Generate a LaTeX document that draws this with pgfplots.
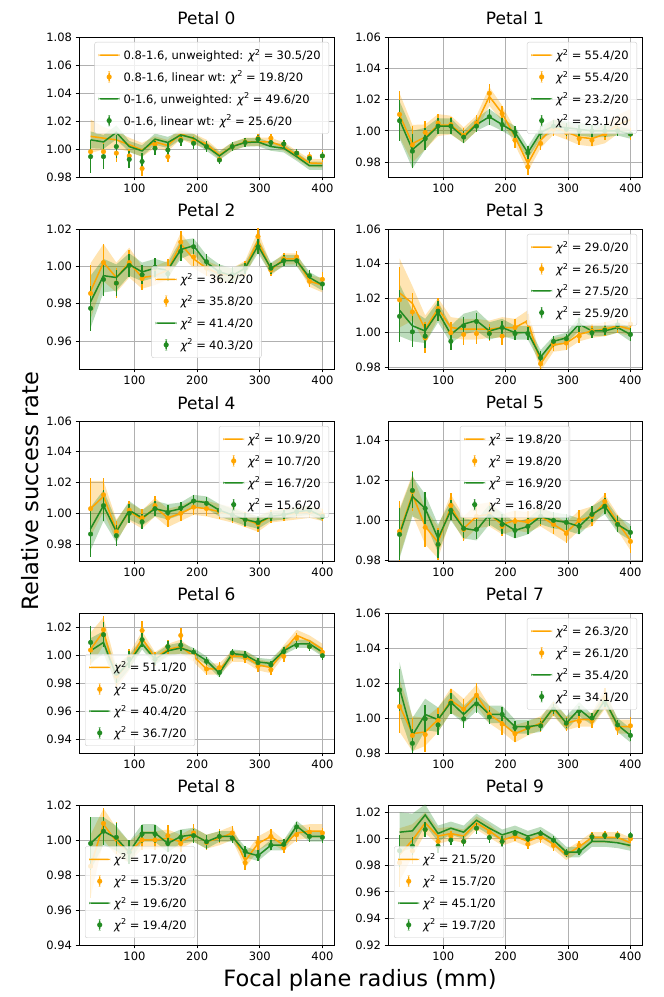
\documentclass[border=0pt]{standalone}
\usepackage{fontspec}
\setmainfont{DejaVu Sans}
\usepackage{pgfplots}
\usepackage{pgfplotstable}
\pgfplotsset{compat=1.18}
\usepgfplotslibrary{fillbetween}
\definecolor{orng}{HTML}{FFA500}
\definecolor{grn}{HTML}{228B22}
\definecolor{gridc}{HTML}{B0B0B0}
\definecolor{legc}{HTML}{CCCCCC}

% ---------------- data (rows: series, columns: 19 radius bins) ----------------
\pgfplotstableread{
name c0 c1 c2 c3 c4 c5 c6 c7 c8 c9 c10 c11 c12 c13 c14 c15 c16 c17 c18
x  30 50.6 71.1 91.7 112.2 132.8 153.3 173.9 194.4 215 235.6 256.1 276.7 297.2 317.8 338.3 358.9 379.4 400
ol 1.009 1.0077 1.0065 1.003 0.9993 1.005 1.0024 1.011 1.007 1.0036 0.9957 1.0017 1.005 1.005 1.005 1.0017 0.9957 0.990 0.9896
ob 0.012 0.008 0.006 0.005 0.005 0.004 0.004 0.004 0.004 0.003 0.003 0.003 0.003 0.003 0.003 0.003 0.003 0.003 0.003
op 0.998 0.998 0.997 0.995 0.986 1.003 0.9945 1.007 1.005 1.0017 0.9925 1.0017 1.005 1.0077 1.0077 1.0036 0.997 0.9945 0.995
oe 0.006 0.006 0.006 0.005 0.005 0.004 0.004 0.004 0.004 0.003 0.003 0.003 0.003 0.003 0.003 0.003 0.003 0.003 0.004
gl 1.0065 1.005 1.0118 1.0017 0.9986 1.007 1.0046 1.010 1.0077 1.0017 0.995 1.0017 1.0046 1.005 1.0017 1.0005 0.9945 0.988 0.988
gb 0.006 0.005 0.005 0.004 0.004 0.004 0.004 0.003 0.003 0.003 0.003 0.003 0.003 0.003 0.003 0.003 0.003 0.003 0.003
gp 0.9945 0.9945 1.0017 0.9925 0.991 1.0005 0.9993 1.006 1.004 1.0017 0.992 1.0017 1.0046 1.007 1.0046 1.0036 0.997 0.9933 0.995
ge 0.012 0.009 0.008 0.006 0.006 0.005 0.005 0.004 0.004 0.004 0.003 0.003 0.003 0.003 0.003 0.003 0.003 0.003 0.003
}\rawA
\pgfplotstableread{
name c0 c1 c2 c3 c4 c5 c6 c7 c8 c9 c10 c11 c12 c13 c14 c15 c16 c17 c18
x  30 50.6 71.1 91.7 112.2 132.8 153.3 173.9 194.4 215 235.6 256.1 276.7 297.2 317.8 338.3 358.9 379.4 400
ol 1.0101 0.9918 0.9961 1.0037 1.0037 0.9972 1.0047 1.022 1.0112 0.9961 0.979 0.994 1.0026 0.9994 0.996 0.995 0.998 1.004 1.007
ob 0.014 0.012 0.008 0.007 0.006 0.005 0.005 0.006 0.005 0.005 0.005 0.005 0.005 0.005 0.005 0.005 0.006 0.006 0.007
op 1.0105 0.991 0.999 1.005 1.004 0.997 1.005 1.024 1.011 0.994 0.977 0.992 1.001 0.999 0.995 0.994 0.998 1.001 0.998
oe 0.015 0.012 0.007 0.006 0.005 0.005 0.005 0.006 0.005 0.005 0.005 0.004 0.004 0.004 0.004 0.004 0.004 0.004 0.004
gl 1.007 0.988 0.995 1.003 1.003 0.996 1.004 1.009 1.004 0.999 0.986 0.999 1.003 1.002 1.001 1.000 1.000 1.000 0.998
gb 0.012 0.012 0.007 0.005 0.005 0.004 0.004 0.005 0.004 0.004 0.004 0.004 0.004 0.004 0.004 0.004 0.004 0.003 0.003
gp 1.0065 0.987 0.995 1.003 1.003 0.996 1.003 1.009 1.004 0.999 0.986 0.999 1.003 1.001 1.000 1.000 1.000 1.000 0.998
ge 0.013 0.011 0.007 0.005 0.005 0.004 0.004 0.005 0.004 0.004 0.004 0.004 0.004 0.004 0.004 0.004 0.004 0.003 0.002
}\rawB
\pgfplotstableread{
name c0 c1 c2 c3 c4 c5 c6 c7 c8 c9 c10 c11 c12 c13 c14 c15 c16 c17 c18
x  30 50.6 71.1 91.7 112.2 132.8 153.3 173.9 194.4 215 235.6 256.1 276.7 297.2 317.8 338.3 358.9 379.4 400
ol 0.9867 1.002 0.994 1.002 0.994 0.995 0.998 1.012 1.004 0.999 0.996 0.995 0.999 1.014 0.998 1.004 1.004 0.992 0.990
ob 0.015 0.010 0.008 0.008 0.006 0.005 0.005 0.006 0.005 0.004 0.004 0.004 0.004 0.005 0.003 0.003 0.003 0.003 0.004
op 0.9855 1.002 0.991 1.002 0.9935 0.999 0.999 1.013 1.005 0.999 0.996 0.995 0.999 1.016 0.998 1.004 1.005 0.992 0.993
oe 0.015 0.010 0.008 0.007 0.006 0.005 0.005 0.006 0.005 0.004 0.004 0.004 0.004 0.005 0.003 0.003 0.003 0.003 0.004
gl 0.981 0.995 0.994 1.001 0.997 0.999 0.998 1.009 1.011 1.002 0.997 0.995 0.999 1.011 0.999 1.003 1.003 0.994 0.990
gb 0.014 0.009 0.007 0.006 0.005 0.005 0.004 0.005 0.004 0.004 0.004 0.004 0.003 0.004 0.003 0.003 0.003 0.003 0.003
gp 0.9775 0.993 0.991 1.0005 0.9955 0.9995 0.996 1.008 1.0105 1.0025 0.997 0.9955 0.999 1.0105 0.999 1.003 1.003 0.995 0.9905
ge 0.012 0.009 0.007 0.006 0.005 0.005 0.004 0.005 0.004 0.004 0.004 0.004 0.003 0.004 0.003 0.003 0.003 0.003 0.003
}\rawC
\pgfplotstableread{
name c0 c1 c2 c3 c4 c5 c6 c7 c8 c9 c10 c11 c12 c13 c14 c15 c16 c17 c18
x  30 50.6 71.1 91.7 112.2 132.8 153.3 173.9 194.4 215 235.6 256.1 276.7 297.2 317.8 338.3 358.9 379.4 400
ol 1.023 1.017 1.002 1.014 1.003 1.002 1.002 1.002 1.003 1.003 1.007 0.982 0.993 0.994 0.999 1.001 1.002 1.004 1.002
ob 0.020 0.010 0.008 0.006 0.006 0.006 0.006 0.005 0.006 0.005 0.006 0.004 0.004 0.004 0.004 0.004 0.004 0.004 0.004
op 1.019 1.012 0.997 1.014 1.000 0.999 0.9995 1.000 0.998 1.003 1.006 0.982 0.9935 0.994 0.998 1.001 1.002 1.004 1.005
oe 0.019 0.011 0.009 0.006 0.006 0.006 0.006 0.005 0.005 0.005 0.005 0.004 0.004 0.004 0.004 0.004 0.004 0.004 0.004
gl 1.013 1.004 1.001 1.012 0.999 1.005 1.007 1.001 1.003 1.000 1.000 0.986 0.995 0.997 1.005 1.001 1.001 1.003 0.999
gb 0.015 0.009 0.007 0.006 0.005 0.006 0.006 0.005 0.005 0.004 0.004 0.004 0.003 0.003 0.004 0.003 0.003 0.003 0.004
gp 1.0095 1.0005 0.998 1.0125 0.995 1.004 1.0065 0.9995 1.003 0.9995 0.9995 0.9855 0.995 0.9965 1.0045 1.000 1.0015 1.0045 0.999
ge 0.015 0.009 0.007 0.006 0.005 0.005 0.005 0.004 0.004 0.004 0.004 0.004 0.003 0.003 0.004 0.003 0.003 0.003 0.004
}\rawD
\pgfplotstableread{
name c0 c1 c2 c3 c4 c5 c6 c7 c8 c9 c10 c11 c12 c13 c14 c15 c16 c17 c18
x  30 50.6 71.1 91.7 112.2 132.8 153.3 173.9 194.4 215 235.6 256.1 276.7 297.2 317.8 338.3 358.9 379.4 400
ol 1.003 1.011 0.989 1.001 0.996 1.004 0.997 1.000 1.004 1.003 1.001 0.999 0.996 0.993 0.998 0.999 1.000 1.001 0.999
ob 0.018 0.010 0.007 0.006 0.006 0.006 0.006 0.005 0.005 0.005 0.005 0.005 0.005 0.005 0.004 0.004 0.004 0.004 0.004
op 1.003 1.012 0.988 1.002 0.997 1.005 0.997 1.000 1.004 1.003 1.001 0.999 0.996 0.993 0.998 0.999 1.001 1.001 0.999
oe 0.020 0.011 0.007 0.006 0.006 0.006 0.006 0.005 0.005 0.005 0.005 0.005 0.005 0.005 0.004 0.004 0.004 0.004 0.004
gl 0.990 1.005 0.988 1.002 0.997 1.003 1.001 1.003 1.008 1.007 1.002 0.999 0.996 0.994 0.998 0.999 1.001 1.002 0.998
gb 0.014 0.010 0.007 0.006 0.005 0.005 0.005 0.004 0.004 0.004 0.004 0.004 0.004 0.004 0.003 0.003 0.003 0.003 0.003
gp 0.9865 1.005 0.9855 1.000 0.9945 1.003 1.0005 1.0035 1.008 1.0065 1.002 0.999 0.996 0.994 0.998 0.999 1.001 1.002 0.998
ge 0.015 0.010 0.007 0.006 0.005 0.005 0.005 0.004 0.004 0.004 0.004 0.004 0.004 0.004 0.003 0.003 0.003 0.003 0.002
}\rawE
\pgfplotstableread{
name c0 c1 c2 c3 c4 c5 c6 c7 c8 c9 c10 c11 c12 c13 c14 c15 c16 c17 c18
x  30 50.6 71.1 91.7 112.2 132.8 153.3 173.9 194.4 215 235.6 256.1 276.7 297.2 317.8 338.3 358.9 379.4 400
ol 0.994 1.013 0.997 0.989 1.007 0.996 1.002 1.003 0.998 1.000 0.999 1.002 0.998 0.994 1.000 1.002 1.009 0.999 0.990
ob 0.012 0.010 0.009 0.008 0.006 0.006 0.006 0.006 0.005 0.005 0.005 0.005 0.005 0.005 0.005 0.005 0.004 0.004 0.005
op 0.9945 1.0145 0.9965 0.988 1.0075 0.9955 1.002 1.003 0.997 0.9995 0.9995 1.002 0.998 0.9935 1.000 1.002 1.0095 0.9985 0.9895
oe 0.015 0.010 0.010 0.008 0.006 0.006 0.006 0.006 0.005 0.005 0.005 0.005 0.005 0.005 0.005 0.005 0.004 0.004 0.006
gl 0.993 1.012 1.006 0.991 1.005 0.996 0.995 1.003 0.999 0.995 0.997 1.002 1.000 0.999 0.997 1.003 1.007 0.998 0.994
gb 0.012 0.010 0.007 0.007 0.005 0.005 0.005 0.005 0.005 0.004 0.004 0.004 0.004 0.004 0.004 0.004 0.004 0.004 0.004
gp 0.993 1.015 1.006 0.988 1.005 0.996 0.9955 1.002 0.998 0.995 0.997 1.002 1.000 0.999 0.997 1.003 1.007 0.998 0.994
ge 0.013 0.009 0.008 0.007 0.005 0.005 0.005 0.005 0.005 0.004 0.004 0.004 0.004 0.004 0.004 0.004 0.004 0.004 0.003
}\rawF
\pgfplotstableread{
name c0 c1 c2 c3 c4 c5 c6 c7 c8 c9 c10 c11 c12 c13 c14 c15 c16 c17 c18
x  30 50.6 71.1 91.7 112.2 132.8 153.3 173.9 194.4 215 235.6 256.1 276.7 297.2 317.8 338.3 358.9 379.4 400
ol 1.004 1.017 0.984 0.995 1.012 0.998 1.004 1.006 0.999 0.990 0.990 0.999 0.999 0.993 0.991 1.003 1.014 1.010 1.004
ob 0.012 0.010 0.008 0.006 0.005 0.004 0.004 0.005 0.004 0.004 0.004 0.004 0.004 0.004 0.004 0.004 0.004 0.004 0.004
op 1.0035 1.018 0.985 0.998 1.0175 0.997 1.006 1.014 1.000 0.990 0.991 1.000 0.998 0.992 0.9895 0.999 1.012 1.006 1.002
oe 0.011 0.010 0.008 0.006 0.007 0.005 0.005 0.005 0.004 0.004 0.004 0.004 0.004 0.004 0.004 0.004 0.004 0.003 0.003
gl 1.003 1.009 0.985 0.995 1.008 0.997 1.003 1.005 1.002 0.996 0.987 1.001 1.000 0.995 0.994 1.003 1.008 1.008 1.002
gb 0.009 0.008 0.006 0.005 0.004 0.004 0.004 0.004 0.003 0.003 0.003 0.003 0.003 0.003 0.003 0.003 0.003 0.003 0.003
gp 1.009 1.0145 0.987 0.997 1.011 0.997 1.006 1.007 1.002 0.9955 0.9875 1.0015 0.9995 0.9945 0.993 1.0025 1.007 1.006 0.9995
ge 0.012 0.009 0.007 0.006 0.005 0.004 0.004 0.004 0.003 0.003 0.003 0.003 0.003 0.003 0.003 0.003 0.003 0.003 0.003
}\rawG
\pgfplotstableread{
name c0 c1 c2 c3 c4 c5 c6 c7 c8 c9 c10 c11 c12 c13 c14 c15 c16 c17 c18
x  30 50.6 71.1 91.7 112.2 132.8 153.3 173.9 194.4 215 235.6 256.1 276.7 297.2 317.8 338.3 358.9 379.4 400
ol 1.007 0.991 0.992 0.999 1.010 1.005 1.013 1.002 0.997 0.991 0.994 0.997 1.005 0.997 0.999 0.999 1.011 0.995 0.995
ob 0.015 0.010 0.008 0.007 0.007 0.006 0.006 0.005 0.005 0.005 0.004 0.004 0.004 0.004 0.004 0.004 0.006 0.004 0.004
op 1.0065 0.990 0.9905 0.9985 1.0095 1.005 1.013 1.002 0.9965 0.991 0.9945 0.996 1.005 0.9965 0.998 0.9985 1.011 0.994 0.9955
oe 0.015 0.010 0.010 0.007 0.007 0.006 0.007 0.005 0.006 0.005 0.004 0.004 0.004 0.004 0.004 0.004 0.006 0.004 0.005
gl 1.017 0.990 1.002 0.999 1.009 1.002 1.009 1.002 1.002 0.995 0.995 0.996 1.006 0.997 1.005 0.999 1.010 0.996 0.990
gb 0.015 0.010 0.009 0.007 0.006 0.005 0.005 0.005 0.005 0.004 0.004 0.004 0.004 0.004 0.004 0.003 0.004 0.004 0.004
gp 1.016 0.9855 0.9995 0.996 1.0085 0.9995 1.008 1.0005 1.002 0.9945 0.9945 0.9955 1.005 0.997 1.004 1.000 1.009 0.996 0.990
ge 0.012 0.008 0.008 0.006 0.006 0.005 0.005 0.004 0.004 0.004 0.004 0.003 0.003 0.003 0.003 0.003 0.003 0.003 0.003
}\rawH
\pgfplotstableread{
name c0 c1 c2 c3 c4 c5 c6 c7 c8 c9 c10 c11 c12 c13 c14 c15 c16 c17 c18
x  30 50.6 71.1 91.7 112.2 132.8 153.3 173.9 194.4 215 235.6 256.1 276.7 297.2 317.8 338.3 358.9 379.4 400
ol 0.985 1.009 0.999 0.993 1.000 1.000 1.001 0.999 1.003 0.999 1.001 1.004 0.988 0.998 1.002 0.997 1.004 1.005 1.005
ob 0.018 0.009 0.008 0.006 0.005 0.005 0.005 0.004 0.004 0.004 0.004 0.004 0.004 0.004 0.004 0.003 0.004 0.004 0.004
op 0.985 1.0095 1.001 0.993 1.000 1.000 1.0025 0.998 1.004 0.9985 1.002 1.004 0.987 0.9985 1.002 0.9955 1.003 1.0045 1.004
oe 0.018 0.009 0.009 0.006 0.006 0.006 0.006 0.005 0.005 0.004 0.004 0.004 0.004 0.004 0.004 0.003 0.004 0.003 0.003
gl 0.998 1.005 1.001 0.993 1.004 1.004 0.998 1.002 1.003 0.999 1.002 1.002 0.993 0.991 0.997 0.997 1.008 1.002 1.002
gb 0.015 0.008 0.007 0.006 0.005 0.005 0.005 0.004 0.004 0.004 0.003 0.003 0.003 0.003 0.003 0.003 0.003 0.003 0.003
gp 0.998 1.005 1.0015 0.993 1.0035 1.0035 0.998 1.0015 1.0025 0.999 1.002 1.001 0.9935 0.991 0.997 0.9975 1.0075 1.002 1.0015
ge 0.015 0.008 0.008 0.007 0.005 0.005 0.005 0.004 0.004 0.004 0.003 0.003 0.003 0.003 0.003 0.003 0.003 0.003 0.003
}\rawI
\pgfplotstableread{
name c0 c1 c2 c3 c4 c5 c6 c7 c8 c9 c10 c11 c12 c13 c14 c15 c16 c17 c18
x  30 50.6 71.1 91.7 112.2 132.8 153.3 173.9 194.4 215 235.6 256.1 276.7 297.2 317.8 338.3 358.9 379.4 400
ol 0.988 0.999 1.012 1.002 1.004 1.002 1.012 1.006 0.999 1.002 0.998 1.002 0.996 0.988 0.994 1.001 1.001 1.001 0.997
ob 0.020 0.012 0.008 0.006 0.005 0.005 0.005 0.005 0.004 0.004 0.004 0.004 0.004 0.004 0.004 0.004 0.004 0.004 0.004
op 0.982 0.991 1.007 0.998 1.002 0.998 1.008 1.005 0.998 1.002 0.996 1.001 0.995 0.989 0.995 1.002 1.003 1.003 1.000
oe 0.018 0.010 0.006 0.005 0.004 0.004 0.004 0.004 0.004 0.004 0.004 0.004 0.004 0.003 0.003 0.003 0.003 0.003 0.003
gl 1.005 1.006 1.018 1.004 1.008 1.005 1.014 1.008 1.003 1.006 1.002 1.005 0.999 0.990 0.990 0.998 0.998 0.997 0.995
gb 0.015 0.013 0.008 0.006 0.005 0.005 0.005 0.005 0.004 0.004 0.004 0.004 0.004 0.004 0.004 0.004 0.004 0.004 0.004
gp 0.991 0.9945 1.007 0.9945 0.999 0.998 1.008 1.001 0.998 1.004 1.000 1.004 0.999 0.9895 0.9905 1.0015 1.0025 1.0025 1.0025
ge 0.012 0.007 0.006 0.005 0.004 0.004 0.004 0.004 0.004 0.003 0.003 0.003 0.003 0.003 0.003 0.003 0.003 0.003 0.003
}\rawJ
\pgfplotstabletranspose[colnames from=name]\tabA{\rawA}
\pgfplotstabletranspose[colnames from=name]\tabB{\rawB}
\pgfplotstabletranspose[colnames from=name]\tabC{\rawC}
\pgfplotstabletranspose[colnames from=name]\tabD{\rawD}
\pgfplotstabletranspose[colnames from=name]\tabE{\rawE}
\pgfplotstabletranspose[colnames from=name]\tabF{\rawF}
\pgfplotstabletranspose[colnames from=name]\tabG{\rawG}
\pgfplotstabletranspose[colnames from=name]\tabH{\rawH}
\pgfplotstabletranspose[colnames from=name]\tabI{\rawI}
\pgfplotstabletranspose[colnames from=name]\tabJ{\rawJ}

\newcommand{\cs}[1]{{\itshape χ}\textsuperscript{2}\hspace{0.28em}=\hspace{0.28em}#1/20}

\pgfplotsset{
  petalax/.style={
    scale only axis, height=140pt,
    xmin=11.5, xmax=418.5, xtick={100,200,300,400},
    grid=major, grid style={color=gridc, line width=0.8pt},
    axis line style={line width=0.8pt, black},
    tick align=outside, major tick length=3.5pt,
    tick style={line width=0.8pt, black},
    xtick pos=bottom, ytick pos=left,
    ticklabel style={font=\fontsize{11.5}{13}\selectfont},
    yticklabel style={/pgf/number format/.cd, fixed, fixed zerofill, precision=2},
    scaled y ticks=false,
    /pgf/number format/assume math mode=true,
    title style={font=\fontsize{17}{20}\selectfont, at={(0.5,1)}, anchor=base, yshift=6pt},
    legend cell align=left,
    legend style={font=\fontsize{11.5}{13}\selectfont, draw=legc, rounded corners=2pt,
      fill=white, fill opacity=0.8, draw opacity=1, text opacity=1, row sep=6pt, inner xsep=4pt, inner ysep=5pt,
      nodes={inner xsep=4pt}},
  },
  oline/.style={color=orng, line width=1.5pt, mark=none,
    legend image code/.code={\path[fill=orng, fill opacity=1, draw=none] (0pt,-0.75pt) rectangle (21pt,0.75pt);}},
  gline/.style={color=grn, line width=1.5pt, mark=none,
    legend image code/.code={\path[fill=grn, fill opacity=1, draw=none] (0pt,-0.75pt) rectangle (21pt,0.75pt);}},
  opts/.style={color=orng, only marks, mark=*, mark size=2.3pt, mark options={fill=orng, draw=orng},
    error bars/y dir=both, error bars/y explicit, error bars/error mark=none,
    error bars/error bar style={line width=1.5pt, orng},
    legend image code/.code={\path[fill=orng, fill opacity=1, draw=none] (9.75pt,-5.5pt) rectangle (11.25pt,5.5pt); \path[fill=orng, fill opacity=1, draw=none] (10.5pt,0pt) circle (2.6pt);}},
  gpts/.style={color=grn, only marks, mark=*, mark size=2.3pt, mark options={fill=grn, draw=grn},
    error bars/y dir=both, error bars/y explicit, error bars/error mark=none,
    error bars/error bar style={line width=1.5pt, grn},
    legend image code/.code={\path[fill=grn, fill opacity=1, draw=none] (9.75pt,-5.5pt) rectangle (11.25pt,5.5pt); \path[fill=grn, fill opacity=1, draw=none] (10.5pt,0pt) circle (2.6pt);}},
}

\newcommand{\petal}[8]{%
\begin{axis}[petalax, #2, title={#3}, legend style={#4}]
\addplot[draw=none, forget plot, name path=ou] table[x=x, y expr=\thisrow{ol}+\thisrow{ob}] {#1};
\addplot[draw=none, forget plot, name path=od] table[x=x, y expr=\thisrow{ol}-\thisrow{ob}] {#1};
\addplot[fill=orng, fill opacity=0.3, draw=none, forget plot] fill between[of=ou and od];
\addplot[oline] table[x=x, y=ol] {#1};
\addlegendentry{#5}
\addplot[opts] table[x=x, y=op, y error=oe] {#1};
\addlegendentry{#6}
\addplot[draw=none, forget plot, name path=gu] table[x=x, y expr=\thisrow{gl}+\thisrow{gb}] {#1};
\addplot[draw=none, forget plot, name path=gd] table[x=x, y expr=\thisrow{gl}-\thisrow{gb}] {#1};
\addplot[fill=grn, fill opacity=0.3, draw=none, forget plot] fill between[of=gu and gd];
\addplot[gline] table[x=x, y=gl] {#1};
\addlegendentry{#7}
\addplot[gpts] table[x=x, y=gp, y error=ge] {#1};
\addlegendentry{#8}
\end{axis}}

\begin{document}
\begin{tikzpicture}
\def\UR{at={(1,1)}, anchor=north east, xshift=-5pt, yshift=-5pt}
\def\LL{at={(0,0)}, anchor=south west, xshift=6pt, yshift=7pt}

\petal{\tabA}{at={(79pt,820pt)}, anchor=south west, width=255pt, ymin=0.97995, ymax=1.08, ytick={0.98,1.00,1.02,1.04,1.06,1.08}}{Petal 0}{\UR}
 {0.8-1.6, unweighted: \cs{30.5}}{0.8-1.6, linear wt: \cs{19.8}}{0-1.6, unweighted: \cs{49.6}}{0-1.6, linear wt: \cs{25.6}}
\petal{\tabB}{at={(388pt,820pt)}, anchor=south west, width=254pt, ymin=0.9705, ymax=1.06, ytick={0.98,1.00,1.02,1.04,1.06}}{Petal 1}{\UR}
 {\cs{55.4}}{\cs{55.4}}{\cs{23.2}}{\cs{23.1}}
\petal{\tabC}{at={(79pt,628pt)}, anchor=south west, width=255pt, ymin=0.945, ymax=1.02, ytick={0.96,0.98,1.00,1.02}}{Petal 2}{at={(0.5,0)}, anchor=south, yshift=11pt}
 {\cs{36.2}}{\cs{35.8}}{\cs{41.4}}{\cs{40.3}}
\petal{\tabD}{at={(388pt,628pt)}, anchor=south west, width=254pt, ymin=0.979, ymax=1.06, ytick={0.98,1.00,1.02,1.04,1.06}}{Petal 3}{\UR}
 {\cs{29.0}}{\cs{26.5}}{\cs{27.5}}{\cs{25.9}}
\petal{\tabE}{at={(79pt,436pt)}, anchor=south west, width=255pt, ymin=0.969, ymax=1.06, ytick={0.98,1.00,1.02,1.04,1.06}}{Petal 4}{\UR}
 {\cs{10.9}}{\cs{10.7}}{\cs{16.7}}{\cs{15.6}}
\petal{\tabF}{at={(388pt,436pt)}, anchor=south west, width=254pt, ymin=0.9797, ymax=1.0497, ytick={0.98,1.00,1.02,1.04}}{Petal 5}{at={(0.5,1)}, anchor=north, yshift=-5pt}
 {\cs{19.8}}{\cs{19.8}}{\cs{16.9}}{\cs{16.8}}
\petal{\tabG}{at={(79pt,244pt)}, anchor=south west, width=255pt, ymin=0.93, ymax=1.03, ytick={0.94,0.96,0.98,1.00,1.02}}{Petal 6}{\LL}
 {\cs{51.1}}{\cs{45.0}}{\cs{40.4}}{\cs{36.7}}
\petal{\tabH}{at={(388pt,244pt)}, anchor=south west, width=254pt, ymin=0.97995, ymax=1.06, ytick={0.98,1.00,1.02,1.04,1.06}}{Petal 7}{\UR}
 {\cs{26.3}}{\cs{26.1}}{\cs{35.4}}{\cs{34.1}}
\petal{\tabI}{at={(79pt,52pt)}, anchor=south west, width=255pt, ymin=0.93995, ymax=1.02, ytick={0.94,0.96,0.98,1.00,1.02}}{Petal 8}{\LL}
 {\cs{17.0}}{\cs{15.3}}{\cs{19.6}}{\cs{19.4}}
\petal{\tabJ}{at={(388pt,52pt)}, anchor=south west, width=254pt, ymin=0.91995, ymax=1.0255, ytick={0.92,0.94,0.96,0.98,1.00,1.02}}{Petal 9}{\LL}
 {\cs{21.5}}{\cs{15.7}}{\cs{45.1}}{\cs{19.7}}

\node[anchor=base, font=\fontsize{22.5}{26}\selectfont] at (360pt,10pt) {Focal plane radius (mm)};
\node[rotate=90, font=\fontsize{22.5}{26}\selectfont] at (30pt,506pt) {Relative success rate};

\pgfresetboundingbox
\path[use as bounding box] (0pt,0pt) rectangle (664pt,997pt);
\end{tikzpicture}
\end{document}
